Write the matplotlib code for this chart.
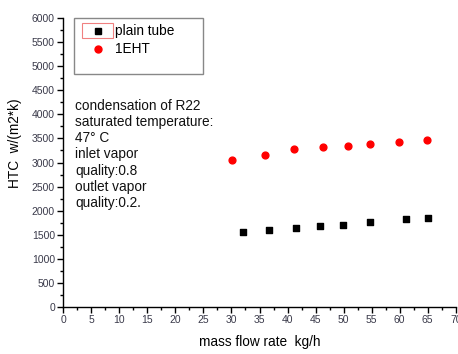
import matplotlib
matplotlib.use('Agg')
import matplotlib.pyplot as plt
import matplotlib.patches as mpatches
from matplotlib.ticker import MultipleLocator
from matplotlib.lines import Line2D

plt.rcParams['font.family'] = ['Liberation Sans', 'DejaVu Sans']

# data
plain_x = [32.1, 36.7, 41.5, 45.8, 49.9, 54.8, 61.1, 65.1]
plain_htc = [1563, 1598, 1646, 1688, 1709, 1765, 1833, 1848]
eht_x = [30.1, 35.9, 41.1, 46.3, 50.7, 54.8, 59.8, 64.9]
eht_htc = [3052, 3155, 3274, 3315, 3349, 3390, 3432, 3461]

note_lines = ["condensation of R22", "saturated temperature:", "47\u00b0 C",
              "inlet vapor", "quality:0.8", "outlet vapor", "quality:0.2."]

W, H = 458, 354
fig = plt.figure(figsize=(W / 100, H / 100), dpi=100)
ax = fig.add_axes([63.3 / W, 1 - 306.7 / H, 392.4 / W, 288.4 / H])

ax.scatter(plain_x, plain_htc, marker='s', s=20, color='black', zorder=3)
ax.scatter(eht_x, eht_htc, marker='o', s=24, color='#ff0000', zorder=3)

ax.set_xlim(0, 70)
ax.set_ylim(0, 6000)
ax.xaxis.set_major_locator(MultipleLocator(5))
ax.xaxis.set_minor_locator(MultipleLocator(2.5))
ax.yaxis.set_major_locator(MultipleLocator(500))
ax.yaxis.set_minor_locator(MultipleLocator(250))
ax.tick_params(which='major', direction='out', length=4, width=1,
               labelsize=7.5, labelcolor='#3a3a4a', pad=2)
ax.tick_params(which='minor', direction='out', length=2, width=1)

for s in ['top', 'right']:
    ax.spines[s].set_visible(False)
for s in ['left', 'bottom']:
    ax.spines[s].set_linewidth(1)

ax.set_xlabel('mass flow rate  kg/h', fontsize=9.8, labelpad=7)
ax.set_ylabel('HTC  w/(m2*k)', fontsize=9.8)
ax.yaxis.set_label_coords(-0.106, 0.567)

# annotation block
y0 = 0.697
step = 0.0564
for i, line in enumerate(note_lines):
    ax.text(0.030, y0 - i * step, line, transform=ax.transAxes,
            fontsize=9.8, va='center', ha='left', color='#111111')

# legend (Origin style box)
handles = [Line2D([], [], marker='s', color='black', ls='none', markersize=4.5),
           Line2D([], [], marker='o', color='#ff0000', ls='none', markersize=5)]
leg = fig.legend(handles, ['plain tube', '1EHT'], loc='upper left',
                 bbox_to_anchor=(84 / W, 1 - 17.5 / H), frameon=False,
                 fontsize=9.8, handlelength=1.0, handletextpad=0.8,
                 labelspacing=0.3, borderpad=0)
frame = mpatches.Rectangle((74.3 / W, 1 - 74.3 / H), 129 / W, 56 / H,
                           transform=fig.transFigure, fill=False,
                           edgecolor='#888888', linewidth=1)
fig.patches.append(frame)
sel = mpatches.Rectangle((82 / W, 1 - 37.7 / H), 31 / W, 14.7 / H,
                         transform=fig.transFigure, fill=False,
                         edgecolor='#f08080', linewidth=0.8)
fig.patches.append(sel)

fig.savefig('out.png', dpi=100)
